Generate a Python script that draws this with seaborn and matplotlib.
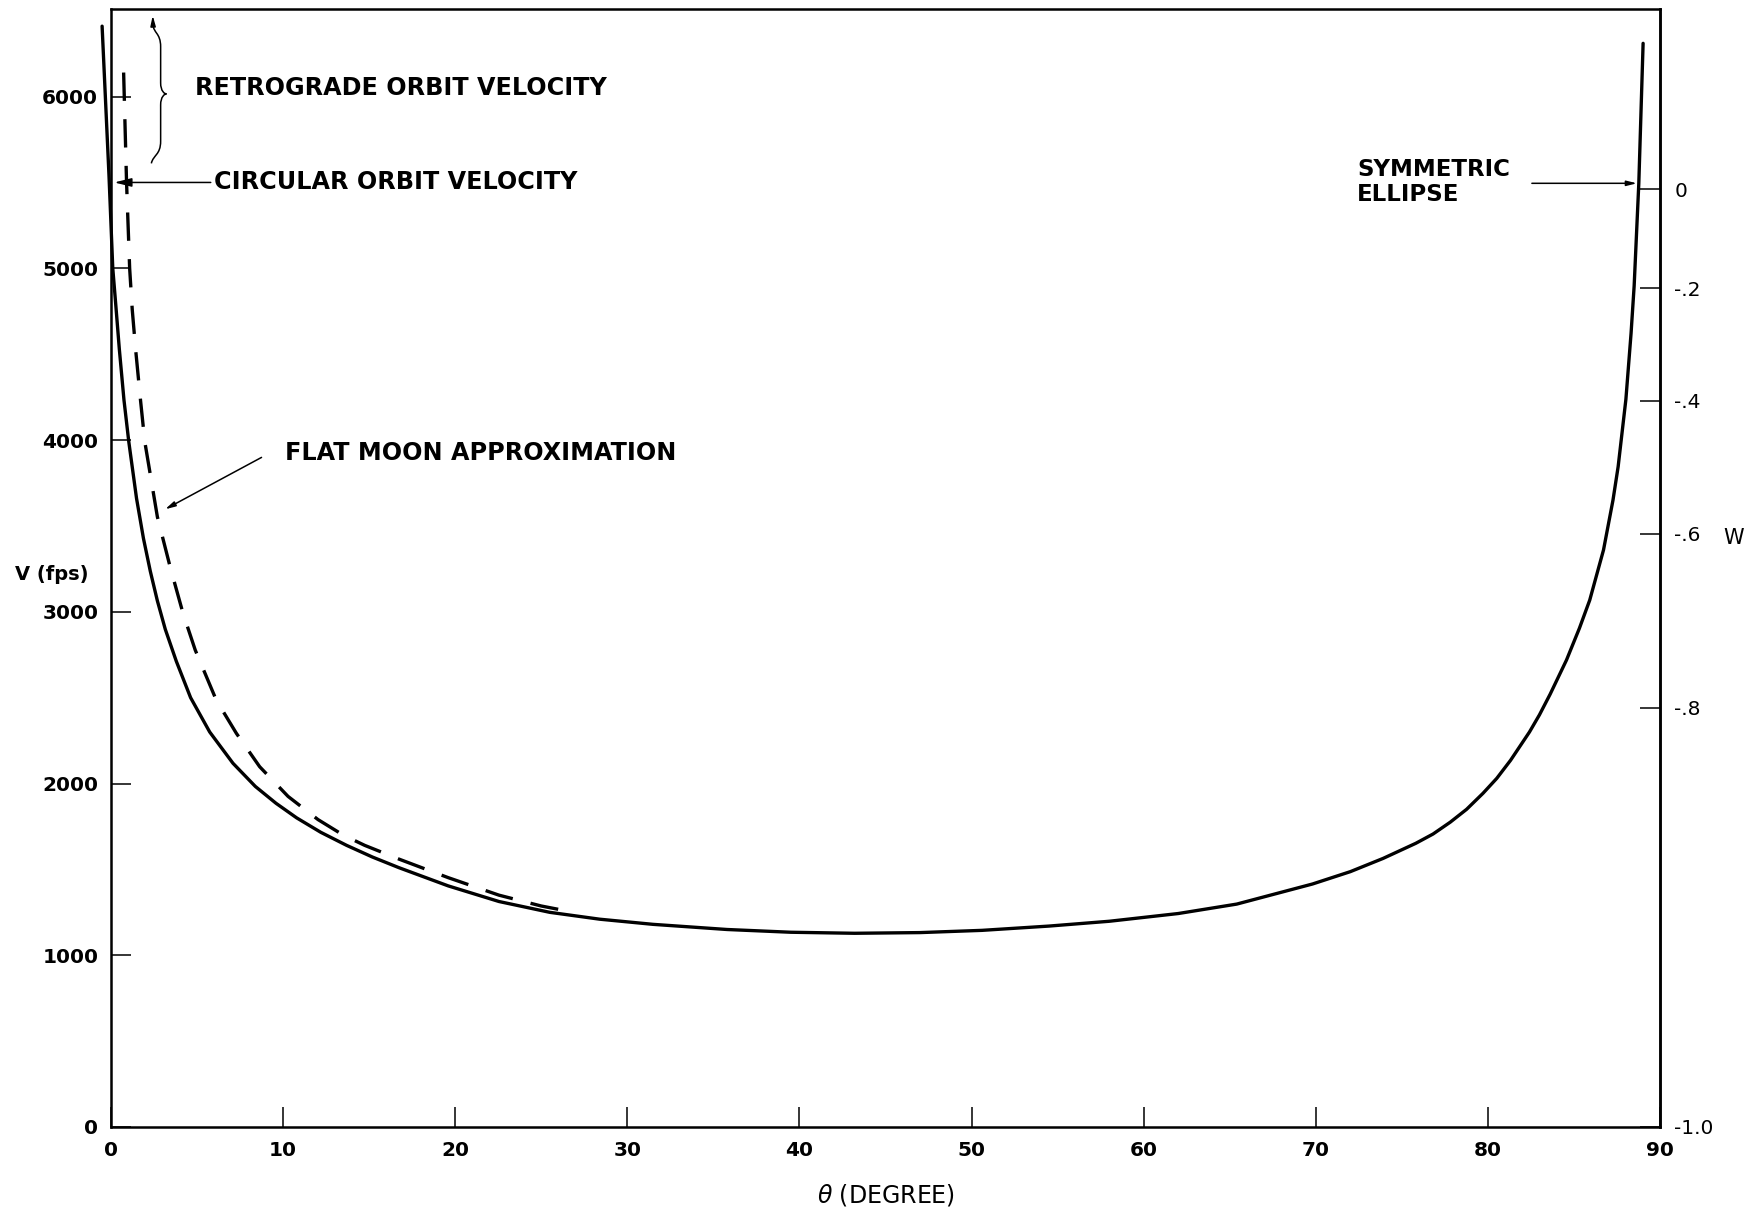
import numpy as np
import seaborn as sns
import matplotlib.pyplot as plt
from matplotlib.path import Path
from matplotlib.patches import PathPatch

# solid curve: exact V vs theta
theta_exact = [-0.5, -0.1, 0.12, 0.3, 0.5, 0.77, 1.05, 1.5, 1.9, 2.3, 2.71, 3.17, 3.81,
               4.64, 5.75, 7.1, 8.4, 9.6, 10.8, 12.2, 13.7, 15.2, 16.74, 19.6, 22.55,
               25.5, 28.4, 31.5, 35.8, 39.5, 43.2, 47.0, 50.6, 54.5, 58.0, 62.0, 65.4,
               69.8, 72.0, 73.9, 75.8, 76.8, 77.8, 78.75, 79.7, 80.5, 81.3, 82.4, 82.98,
               83.6, 84.55, 85.3, 85.9, 86.7, 87.25, 87.55, 88.0, 88.3, 88.48, 88.75, 89.0]
v_exact = [6410, 5540, 5000, 4780, 4530, 4233, 3990, 3660, 3428, 3236, 3064, 2898, 2712,
           2500, 2300, 2118, 1983, 1885, 1800, 1716, 1640, 1572, 1510, 1404, 1313,
           1250, 1210, 1180, 1150, 1134, 1128, 1132, 1145, 1170, 1198, 1243, 1298,
           1415, 1487, 1564, 1652, 1706, 1775, 1850, 1943, 2030, 2135, 2300, 2400,
           2520, 2719, 2904, 3068, 3360, 3650, 3845, 4237, 4621, 4898, 5494, 6310]

# dashed curve: flat moon approximation
theta_flat = [0.75, 0.92, 1.1, 1.25, 1.45, 1.73, 1.98, 2.71, 3.45, 4.2, 4.91, 6.13, 7.3,
              8.65, 10.3, 12.04, 13.5, 14.75, 16.74, 19.6, 22.55, 25.0, 27.0]
v_flat = [6140, 5500, 5000, 4760, 4524, 4233, 3990, 3553, 3262, 2991, 2777, 2486, 2292,
          2098, 1925, 1790, 1700, 1640, 1560, 1452, 1350, 1287, 1248]

x_ticks = [0, 10, 20, 30, 40, 50, 60, 70, 80, 90]
v_ticks = [0, 1000, 2000, 3000, 4000, 5000, 6000]
w_ticks = [0, -0.2, -0.4, -0.6, -0.8, -1.0]
w_labels = ["0", "-.2", "-.4", "-.6", "-.8", "-1.0"]
v_circ = 5460  # W = (V / Vc)^2 - 1

sns.set_style("ticks")
plt.rcParams['font.family'] = ['DejaVu Sans']
for k in ["text.color", "axes.labelcolor", "xtick.color", "ytick.color", "axes.edgecolor"]:
    plt.rcParams[k] = "black"

fig = plt.figure(figsize=(17.49, 12.13), dpi=100)
ax = fig.add_axes([0.0633, 0.0709, 0.886, 0.9214])

sns.lineplot(x=theta_exact, y=v_exact, ax=ax, color="black", lw=2.4,
             sort=False, estimator=None, clip_on=False)
line_flat = sns.lineplot(x=theta_flat, y=v_flat, ax=ax, color="black", lw=2.4,
                         sort=False, estimator=None).lines[-1]
line_flat.set_dashes((8.5, 5.5))
for ln in ax.lines:
    ln.set_solid_joinstyle("round")
    ln.set_dash_joinstyle("round")

ax.set_xlim(0, 90)
ax.set_ylim(0, 6508)
ax.set_xticks(x_ticks)
ax.set_yticks(v_ticks)
for s in ax.spines.values():
    s.set_linewidth(1.8)
ax.tick_params(direction="in", length=14.5, width=1.1, labelsize=14.5)
ax.tick_params(axis="y", pad=9)
ax.tick_params(axis="x", pad=10)
for lab in ax.get_xticklabels() + ax.get_yticklabels():
    lab.set_fontweight("bold")

ax.set_xlabel(r"$\theta$ (DEGREE)", fontsize=17, labelpad=16)
ax.set_ylabel("V (fps)", rotation=0, fontsize=14, fontweight="bold", va="center")
ax.yaxis.set_label_coords(-0.038, 0.494)

sec = ax.secondary_yaxis("right", functions=(
    lambda v: (np.asarray(v) / v_circ) ** 2 - 1,
    lambda w: v_circ * np.sqrt(np.clip(np.asarray(w) + 1, 0, None))))
sec.set_yticks(w_ticks)
sec.set_yticklabels(w_labels)
sec.tick_params(direction="in", length=14.5, width=1.1, labelsize=14.5, pad=10)
sec.spines["right"].set_linewidth(1.8)
ax.text(1.047, 3431 / 6508, "W", transform=ax.transAxes, fontsize=15,
        ha="center", va="center")

arrow = dict(arrowstyle="-|>,head_length=0.6,head_width=0.15", lw=1.1,
             color="black", shrinkA=0, shrinkB=0)
txt = dict(fontsize=17.2, fontweight="bold", va="center", ha="left")

ax.annotate("CIRCULAR ORBIT VELOCITY", xy=(0.21, 5500), xytext=(6.0, 5500),
            arrowprops=dict(arrow, relpos=(0, 0.5)), **txt)
ax.text(4.9, 6050, "RETROGRADE ORBIT VELOCITY", **txt)
ax.text(10.1, 3926, "FLAT MOON APPROXIMATION", **txt)
ax.annotate("", xy=(3.16, 3597), xytext=(8.76, 3899), arrowprops=arrow)
ax.text(72.4, 5504, "SYMMETRIC\nELLIPSE", linespacing=1.1,
        **dict(txt, fontsize=16.5))
ax.annotate("", xy=(88.64, 5495), xytext=(82.54, 5495), arrowprops=arrow)

# curly brace with arrow for the retrograde range
x0, xm, xt = 2.46, 2.9, 3.24
ytop, ybot = 6420, 5611
ymid = (ytop + ybot) / 2
h = ytop - ybot
verts = [(x0, ytop), (x0, ytop - 0.06 * h), (xm, ytop - 0.06 * h), (xm, ytop - 0.16 * h),
         (xm, ymid + 0.08 * h),
         (xm, ymid + 0.02 * h), (xt - 0.12, ymid), (xt, ymid),
         (xt, ymid),
         (xt - 0.12, ymid), (xm, ymid - 0.02 * h), (xm, ymid - 0.08 * h),
         (xm, ybot + 0.16 * h),
         (xm, ybot + 0.06 * h), (x0, ybot + 0.06 * h), (x0 - 0.1, ybot)]
codes = [Path.MOVETO, Path.CURVE4, Path.CURVE4, Path.CURVE4,
         Path.LINETO,
         Path.CURVE4, Path.CURVE4, Path.CURVE4,
         Path.MOVETO,
         Path.CURVE4, Path.CURVE4, Path.CURVE4,
         Path.LINETO,
         Path.CURVE4, Path.CURVE4, Path.CURVE4]
ax.add_patch(PathPatch(Path(verts, codes), fill=False, lw=1.1, color="black"))
ax.annotate("", xy=(x0 - 0.02, 6472), xytext=(x0, ytop - 10), arrowprops=arrow)

fig.savefig("out.png", dpi=100)
